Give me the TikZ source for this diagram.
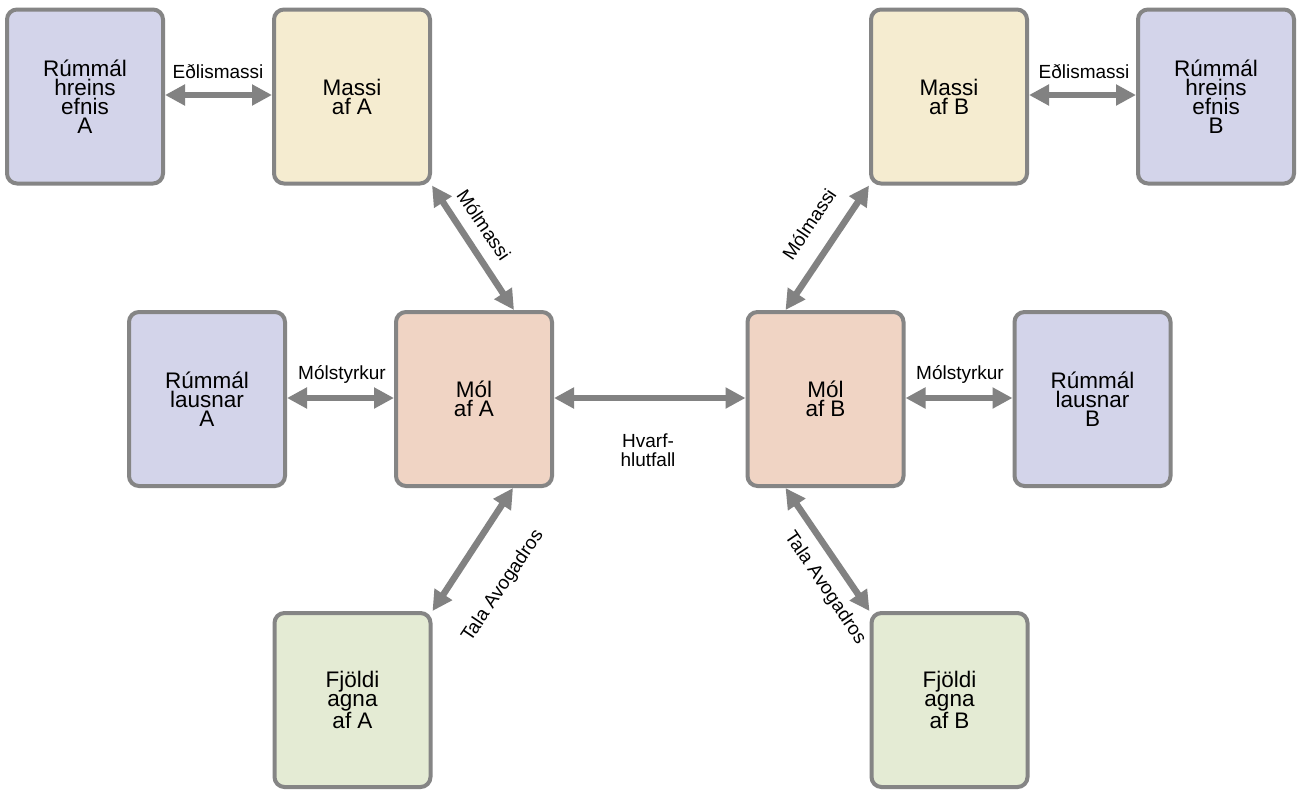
\documentclass[tikz,border=0pt]{standalone}
\usepackage{fontspec}
\setmainfont{Liberation Sans}
\usetikzlibrary{arrows.meta,calc}
\definecolor{bordgray}{HTML}{858585}
\definecolor{arrgray}{HTML}{828282}
\definecolor{cblue}{HTML}{D3D4EA}
\definecolor{cyellow}{HTML}{F5ECD0}
\definecolor{cpeach}{HTML}{F0D4C4}
\definecolor{cgreen}{HTML}{E4EBD4}
\tikzset{
  box/.style={draw=bordgray, line width=4pt, rounded corners=10pt,
    minimum width=156pt, minimum height=174pt, inner sep=0pt,
    align=center, font=\fontsize{22.5}{19}\selectfont},
  conn/.style={draw=arrgray, line width=6.5pt,
    {Triangle[length=20pt,width=20pt]}-{Triangle[length=20pt,width=20pt]}},
  lbl/.style={font=\fontsize{19}{20}\selectfont, align=center, inner sep=0pt}
}
\begin{document}
\begin{tikzpicture}[x=1pt,y=-1pt]
\useasboundingbox (0,0) rectangle (1300,796);
\fill[white] (0,0) rectangle (1300,796);
% boxes
\node[box, fill=cblue]   (rA)    at (85,96.5)   {Rúmmál\\hreins\\efnis\\A};
\node[box, fill=cyellow] (massA) at (352,96.5)  {Massi\\af A};
\node[box, fill=cyellow] (massB) at (949,96.5)  {Massi\\af B};
\node[box, fill=cblue]   (rB)    at (1216,96.5) {Rúmmál\\hreins\\efnis\\B};
\node[box, fill=cblue]   (lausnA) at (207,399)  {Rúmmál\\lausnar\\A};
\node[box, fill=cpeach]  (molA)  at (474,399)   {Mól\\af A};
\node[box, fill=cpeach]  (molB)  at (825.5,399) {Mól\\af B};
\node[box, fill=cblue]   (lausnB) at (1092.5,399) {Rúmmál\\lausnar\\B};
\node[box, fill=cgreen]  (fjA)   at (352.5,700) {Fjöldi\\agna\\af A};
\node[box, fill=cgreen]  (fjB)   at (949.5,700) {Fjöldi\\agna\\af B};
% connectors
\draw[conn] (rA.east |- 0,95) -- (massA.west |- 0,95);
\draw[conn] (massB.east |- 0,95) -- (rB.west |- 0,95);
\draw[conn] (lausnA.east |- 0,398) -- (molA.west |- 0,398);
\draw[conn] (molB.east |- 0,398) -- (lausnB.west |- 0,398);
\draw[conn] (molA.east |- 0,398) -- (molB.west |- 0,398);
\draw[conn] (massA.south east) -- ($(molA.north east)+(-40,0)$);
\draw[conn] (massB.south west) -- ($(molB.north west)+(40,0)$);
\draw[conn] ($(molA.south east)+(-41,0)$) -- (fjA.north east);
\draw[conn] ($(molB.south west)+(40,0)$) -- (fjB.north west);
% labels
\node[lbl] (l1) at (218,72) {Eðlismassi};
\node[lbl] (l2) at (1084,72) {Eðlismassi};
\node[lbl] (l3) at (342,374) {Mólstyrkur};
\node[lbl] (l4) at (960,374) {Mólstyrkur};
\node[lbl, font=\fontsize{19}{19}\selectfont] (l5) at (648,450) {Hvarf-\\hlutfall};
\node[lbl, rotate=-56] (l6) at (484,225) {Mólmassi};
\node[lbl, rotate=56] (l7) at (809,224) {Mólmassi};
\node[lbl, rotate=56] (l8) at (503,586) {Tala Avogadros};
\node[lbl, rotate=-56] (l9) at (825,588) {Tala Avogadros};
\end{tikzpicture}
\end{document}
